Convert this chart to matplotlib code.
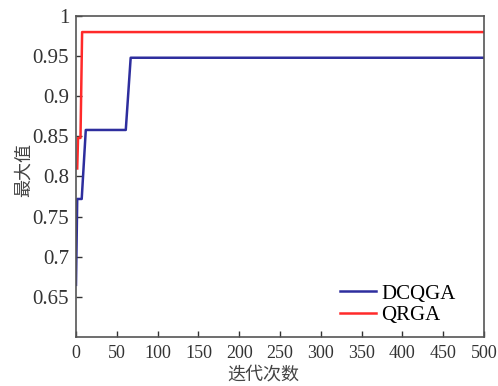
import matplotlib.pyplot as plt

# data (step-like convergence curves)
dcqga_x = [0, 1.5, 7, 12, 61, 67, 500]
dcqga_y = [0.665, 0.772, 0.772, 0.858, 0.858, 0.948, 0.948]
qrga_x = [1.5, 1.5, 2.5, 5.5, 7.5, 500]
qrga_y = [0.81, 0.81, 0.848, 0.848, 0.98, 0.98]

xticks = list(range(0, 501, 50))
yticks = [0.65, 0.7, 0.75, 0.8, 0.85, 0.9, 0.95, 1]
ytick_labels = ['0.65', '0.7', '0.75', '0.8', '0.85', '0.9', '0.95', '1']

plt.rcParams['font.family'] = ['Liberation Serif', 'Noto Sans CJK SC']

fig = plt.figure(figsize=(4.98, 3.86), dpi=100)
ax = fig.add_axes([0.1526, 0.127, 0.8194, 0.8315])

ax.plot(dcqga_x, dcqga_y, color='#2e2e9e', lw=1.8, label='DCQGA')
ax.plot(qrga_x, qrga_y, color='#ff2a2a', lw=1.8, label='QRGA')

ax.set_xlim(0, 500)
ax.set_ylim(0.6, 1.0)
ax.set_xticks(xticks)
ax.set_yticks(yticks)
ax.set_yticklabels(ytick_labels)
ax.tick_params(direction='in', length=4, labelsize=13, colors='#333333', width=1)
ax.tick_params(axis='y', labelsize=15, pad=5)
ax.tick_params(axis='x', pad=6)
for s in ax.spines.values():
    s.set_color('#555555')
    s.set_linewidth(1.2)

ax.set_xlabel('迭代次数', family=['Noto Sans CJK SC'], fontsize=13, color='#444444')
ax.set_ylabel('最大值', family=['Noto Sans CJK SC'], fontsize=13, color='#444444')
ax.xaxis.set_label_coords(0.46, -0.09)
ax.yaxis.set_label_coords(-0.105, 0.52)

ax.legend(loc='lower right', bbox_to_anchor=(0.95, 0.01), frameon=False, fontsize=15,
          handlelength=1.7, labelspacing=0.1, handletextpad=0.25, borderaxespad=0)

fig.savefig('out.png', dpi=100)
